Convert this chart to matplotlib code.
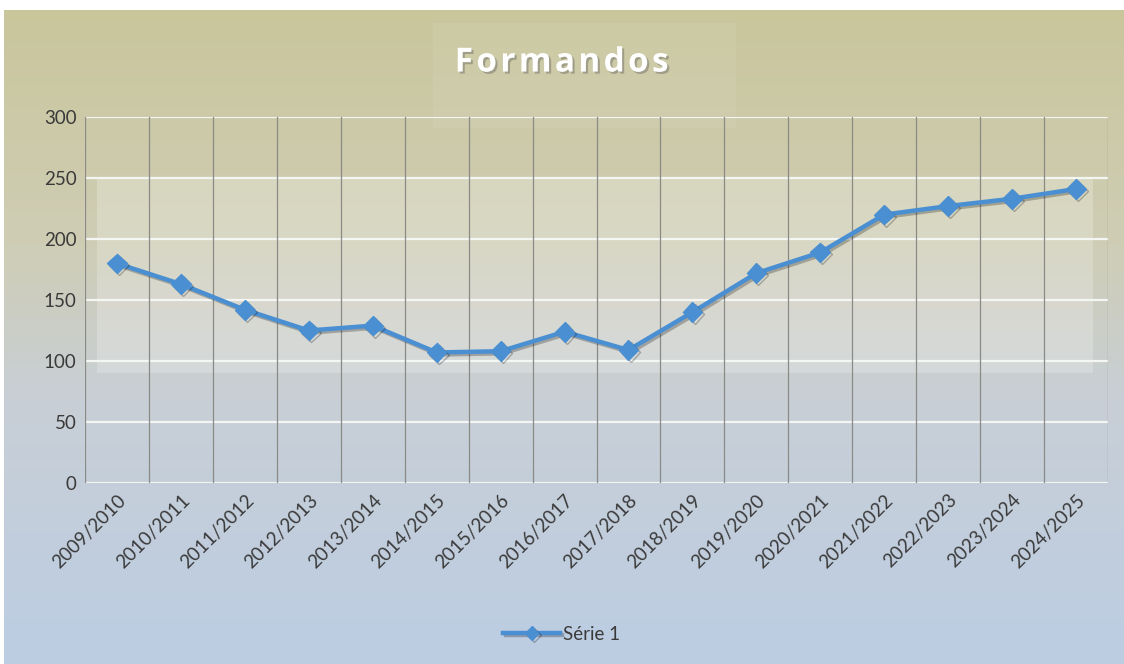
import matplotlib
matplotlib.use("Agg")
import matplotlib.pyplot as plt
import matplotlib.patheffects as pe
from matplotlib.colors import LinearSegmentedColormap
import numpy as np

anos = ["2009/2010", "2010/2011", "2011/2012", "2012/2013", "2013/2014",
        "2014/2015", "2015/2016", "2016/2017", "2017/2018", "2018/2019",
        "2019/2020", "2020/2021", "2021/2022", "2022/2023", "2023/2024",
        "2024/2025"]
formandos = [180, 163, 142, 125, 129, 107, 108, 124, 109, 140,
             172, 189, 220, 227, 233, 241]
y_ticks = [0, 50, 100, 150, 200, 250, 300]

plt.rcParams['font.family'] = ['Lato', 'DejaVu Sans']

fig = plt.figure(figsize=(11.24, 6.64), dpi=100)
fig.patch.set_facecolor('white')

# background gradient (tan on top -> light blue at bottom)
bg = fig.add_axes([0.004, 0, 0.996, 0.985])
bg.axis('off')
cmap = LinearSegmentedColormap.from_list(
    'bg', [(0.0, '#c9c69c'), (0.35, '#cfcdb4'), (0.6, '#c8cfd6'), (1.0, '#bccde3')])
grad = np.linspace(0, 1, 256).reshape(-1, 1)
bg.imshow(grad, aspect='auto', cmap=cmap, extent=[0, 1, 0, 1], origin='upper')
# lighter patch behind the title
bg.add_patch(plt.Rectangle((0.383, 0.82), 0.27, 0.16, color='white', alpha=0.07, lw=0))
bg.set_xlim(0, 1)
bg.set_ylim(0, 1)

ax = fig.add_axes([0.0756, 0.2726, 0.9102, 0.5512])
ax.set_facecolor('none')
x = np.arange(len(anos))

# lighter inner band
ax.axhspan(90, 250, xmin=0.012, xmax=0.985, color='white', alpha=0.22, lw=0, zorder=0)

ax.set_xlim(-0.5, len(anos) - 0.5)
ax.set_ylim(0, 300)
ax.set_yticks(y_ticks)
for v in y_ticks:
    ax.axhline(v, color='#f4f6f4', lw=1.6, zorder=1)
for b in np.arange(-0.5, len(anos)):
    ax.axvline(b, color='#8a8a86', lw=0.9, zorder=1)

ax.plot(x, formandos, color='#4a8fd2', lw=3.2, marker='D', ms=10,
        zorder=3, label='Série 1',
        path_effects=[pe.SimpleLineShadow(offset=(1.5, -1.5), alpha=0.25), pe.Normal()])

for s in ax.spines.values():
    s.set_visible(False)
ax.tick_params(length=0, labelsize=13.5, colors='#3a3a3a', pad=6)
ax.set_xticks(x)
ax.set_xticklabels(anos, rotation=45, ha='right', rotation_mode='anchor')

fig.text(0.5, 0.905, 'F o r m a n d o s'.replace(' ', '\u200a'), ha='center', va='center',
         color='white', fontsize=24, fontweight='bold', family=['Open Sans', 'DejaVu Sans'],
         path_effects=[pe.withSimplePatchShadow(offset=(1.5, -1.5), alpha=0.35)])

leg = fig.legend(loc='center', bbox_to_anchor=(0.5, 0.045), frameon=False,
                 fontsize=13.5, handlelength=3, labelcolor='#3a3a3a',
                 handletextpad=0.2, markerscale=0.7)

fig.savefig('out.png', dpi=100)
